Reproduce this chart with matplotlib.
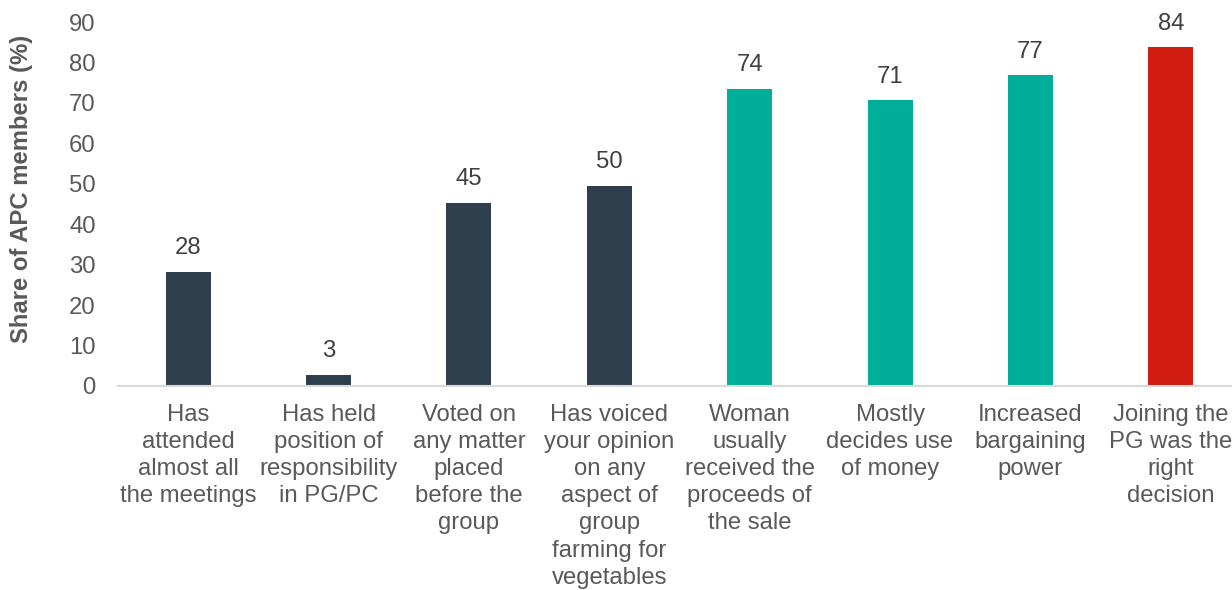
import matplotlib.pyplot as plt

plt.rcParams['font.family'] = ['Liberation Sans', 'DejaVu Sans']

# categories (x tick labels) and values
categories = [
    "Has\nattended\nalmost all\nthe meetings",
    "Has held\nposition of\nresponsibility\nin PG/PC",
    "Voted on\nany matter\nplaced\nbefore the\ngroup",
    "Has voiced\nyour opinion\non any\naspect of\ngroup\nfarming for\nvegetables",
    "Woman\nusually\nreceived the\nproceeds of\nthe sale",
    "Mostly\ndecides use\nof money",
    "Increased\nbargaining\npower",
    "Joining the\nPG was the\nright\ndecision",
]
values = [28.3, 2.8, 45.3, 49.5, 73.5, 70.6, 76.8, 83.8]
labels = ["28", "3", "45", "50", "74", "71", "77", "84"]
colors = ["#2E3E4C"] * 4 + ["#00AE99"] * 3 + ["#D01C11"]

fig = plt.figure(figsize=(12.32, 5.9), dpi=100)
ax = fig.add_axes([118 / 1232, 0.3458, 1123 / 1232, 0.9627 - 0.3458])

x = list(range(len(categories)))
bars = ax.bar(x, values, width=0.32, color=colors)

for b, lab in zip(bars, labels):
    ax.annotate(lab, (b.get_x() + b.get_width() / 2, b.get_height()),
                xytext=(0, 9), textcoords='offset points',
                ha='center', va='bottom', fontsize=17.2, color='#404040')

ax.set_xlim(-0.5, 7.5)
ax.set_ylim(0, 90)
ax.set_yticks(range(0, 91, 10))
ax.set_xticks(x)
ax.set_xticklabels(categories, fontsize=17.2, color='#595959', linespacing=1.30)
ax.tick_params(axis='x', length=0, pad=13)
ax.tick_params(axis='y', length=0, pad=16, labelsize=17.2, labelcolor='#595959')

for s in ['top', 'right', 'left']:
    ax.spines[s].set_visible(False)
ax.spines['bottom'].set_color('#D9D9D9')
ax.spines['bottom'].set_linewidth(1.5)

fig.text(22 / 1232, (590 - 189) / 590, "Share of APC members (%)", rotation=90,
         ha='center', va='center', fontsize=17.2, fontweight='bold', color='#595959')

plt.savefig('out.png', dpi=100)
